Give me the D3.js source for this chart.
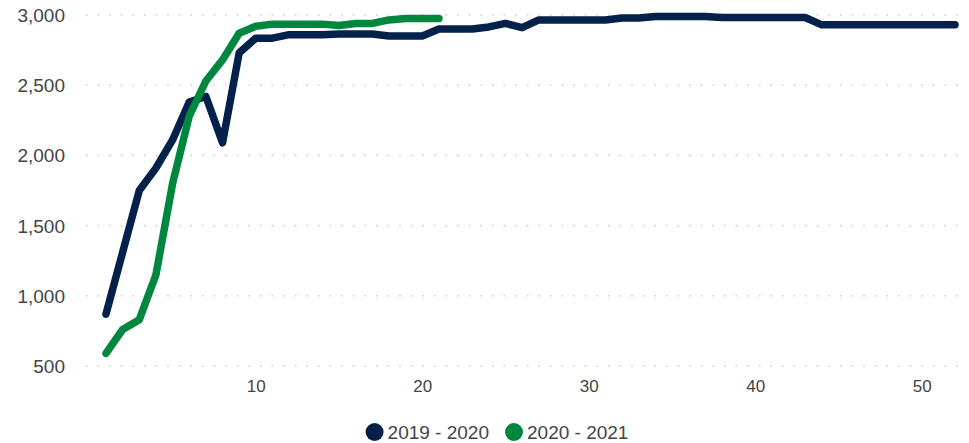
<!DOCTYPE html>
<html>
<head>
<meta charset="utf-8">
<script src="https://cdn.jsdelivr.net/npm/d3@7"></script>
<style>
  body { margin: 0; background: #fff; }
  svg { display: block; font-family: "Liberation Sans", Arial, sans-serif; }
</style>
</head>
<body>
<svg id="chart"></svg>
<script>
// week-by-week values
var series19 = [870, 1310, 1750, 1910, 2110, 2380, 2420, 2090, 2730, 2835,
    2835, 2860, 2860, 2860, 2865, 2865, 2865, 2850, 2850, 2850,
    2900, 2900, 2900, 2915, 2940, 2910, 2965, 2965, 2965, 2965,
    2965, 2978, 2978, 2990, 2990, 2990, 2990, 2982, 2982, 2982,
    2982, 2982, 2982, 2930, 2930, 2930, 2930, 2930, 2930, 2930,
    2930, 2930];
var series20 = [590, 760, 830, 1150, 1800, 2280, 2530, 2680, 2870, 2920,
    2935, 2935, 2935, 2935, 2925, 2940, 2940, 2965, 2975, 2975,
    2975];
var seriesNames = ["2019 - 2020", "2020 - 2021"];
var seriesColors = ["#03214a", "#00873f"];
var yTicks = [500, 1000, 1500, 2000, 2500, 3000];
var xTicks = [10, 20, 30, 40, 50];

var W = 969, H = 443;
var svg = d3.select("#chart").attr("width", W).attr("height", H);

var x = d3.scaleLinear().domain([1, 52]).range([106, 955]);
var y = d3.scaleLinear().domain([500, 3000]).range([366, 15]);

// dotted gridlines
svg.append("g").selectAll("line")
    .data(yTicks)
    .enter().append("line")
    .attr("x1", 86).attr("x2", 966)
    .attr("y1", function (d) { return y(d); })
    .attr("y2", function (d) { return y(d); })
    .style("stroke", "#d0d0d0")
    .style("stroke-width", 1.6)
    .style("stroke-dasharray", "1.6,10");

// y labels
var yAxis = d3.axisLeft(y).tickValues(yTicks).tickSize(0).tickPadding(0)
    .tickFormat(d3.format(","));
var gY = svg.append("g").attr("transform", "translate(65,0)").call(yAxis);
gY.select(".domain").remove();
gY.selectAll("text").style("font-size", "19px").style("fill", "#444")
    .attr("dy", "0.34em");

// x labels
var xAxis = d3.axisBottom(x).tickValues(xTicks).tickSize(0).tickPadding(0);
var gX = svg.append("g").attr("transform", "translate(0,386)").call(xAxis);
gX.select(".domain").remove();
gX.selectAll("text").style("font-size", "17px").style("fill", "#444")
    .attr("dy", "0.34em");

var line = d3.line()
    .x(function (d, i) { return x(i + 1); })
    .y(function (d) { return y(d); });

[series19, series20].forEach(function (s, i) {
    svg.append("path")
        .attr("d", line(s))
        .style("fill", "none")
        .style("stroke", seriesColors[i])
        .style("stroke-width", 7.5)
        .style("stroke-linejoin", "round")
        .style("stroke-linecap", "round");
});

// legend
var legend = svg.append("g");
var lx = 0;
seriesNames.forEach(function (name, i) {
    legend.append("circle")
        .attr("cx", lx + 9).attr("cy", 0).attr("r", 9)
        .style("fill", seriesColors[i]);
    var t = legend.append("text")
        .attr("x", lx + 22).attr("y", 0).attr("dy", "0.35em")
        .style("font-size", "19px").style("fill", "#444")
        .text(name);
    lx += 22 + t.node().getComputedTextLength() + 16;
});
var lw = lx - 16;
legend.attr("transform", "translate(" + (497 - lw / 2) + ",432)");
</script>
</body>
</html>
